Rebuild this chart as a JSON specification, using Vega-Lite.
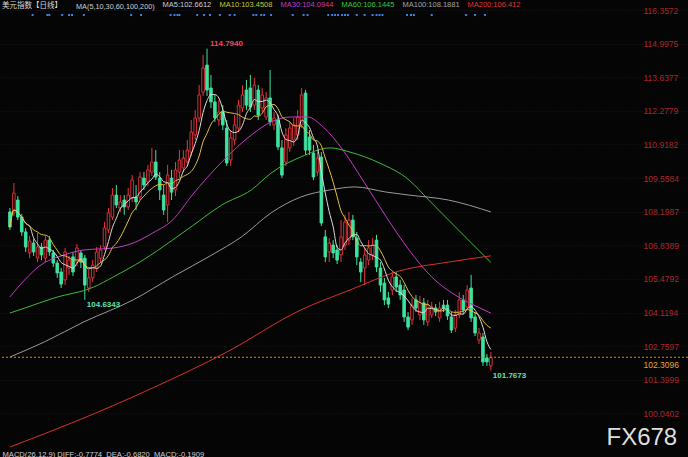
{
  "$schema": "https://vega.github.io/schema/vega-lite/v6.json",
  "width": 688,
  "height": 457,
  "autosize": {"type": "none"},
  "padding": 0,
  "background": "#050505",
  "config": {"view": {"stroke": null}, "font": "Liberation Sans", "axis": {"labelOverlap": false}},
  "title": {"text": "美元指数【日线】", "anchor": "start", "orient": "top", "frame": "group", "offset": -12, "dx": 2, "fontSize": 7.5, "font": "Noto Sans CJK SC", "fontWeight": "normal", "color": "#d9d9d9"},
  "datasets": {
    "candles": [
      {"i":0,"o":108.19,"c":107.58,"h":108.35,"l":107.46},
      {"i":1,"o":108.15,"c":108.95,"h":109.36,"l":108.02},
      {"i":2,"o":108.67,"c":107.98,"h":108.83,"l":107.86},
      {"i":3,"o":107.98,"c":107.38,"h":108.11,"l":107.22},
      {"i":4,"o":107.38,"c":106.77,"h":107.54,"l":106.57},
      {"i":5,"o":106.53,"c":107.01,"h":107.22,"l":106.32},
      {"i":6,"o":106.93,"c":106.57,"h":107.09,"l":106.41},
      {"i":7,"o":106.32,"c":106.77,"h":107.34,"l":106.16},
      {"i":8,"o":106.77,"c":106.45,"h":106.93,"l":106.24},
      {"i":9,"o":106.32,"c":107.05,"h":107.22,"l":106.16},
      {"i":10,"o":107.05,"c":106.57,"h":107.22,"l":106.41},
      {"i":11,"o":106.53,"c":106.12,"h":106.65,"l":105.96},
      {"i":12,"o":106.12,"c":105.72,"h":106.24,"l":105.52},
      {"i":13,"o":105.76,"c":105.27,"h":105.92,"l":105.11},
      {"i":14,"o":105.44,"c":106.57,"h":106.73,"l":105.23},
      {"i":15,"o":105.92,"c":106.24,"h":106.41,"l":105.64},
      {"i":16,"o":106.37,"c":105.76,"h":106.57,"l":105.60},
      {"i":17,"o":106.16,"c":106.73,"h":106.89,"l":106.00},
      {"i":18,"o":106.53,"c":106.16,"h":106.65,"l":105.92},
      {"i":19,"o":106.32,"c":105.23,"h":106.45,"l":104.6343},
      {"i":20,"o":105.11,"c":105.52,"h":105.84,"l":104.95},
      {"i":21,"o":105.52,"c":106.04,"h":106.24,"l":105.35},
      {"i":22,"o":105.92,"c":106.57,"h":106.77,"l":105.76},
      {"i":23,"o":106.32,"c":106.65,"h":106.85,"l":106.16},
      {"i":24,"o":106.77,"c":107.54,"h":107.78,"l":106.65},
      {"i":25,"o":107.46,"c":108.15,"h":108.35,"l":107.34},
      {"i":26,"o":107.98,"c":108.87,"h":109.16,"l":107.86},
      {"i":27,"o":108.87,"c":108.47,"h":109.28,"l":108.35},
      {"i":28,"o":108.35,"c":108.59,"h":108.87,"l":108.19},
      {"i":29,"o":108.67,"c":108.39,"h":108.87,"l":108.07},
      {"i":30,"o":108.39,"c":108.87,"h":109.16,"l":108.27},
      {"i":31,"o":108.75,"c":109.48,"h":109.68,"l":108.59},
      {"i":32,"o":108.79,"c":108.59,"h":109.28,"l":108.27},
      {"i":33,"o":108.79,"c":109.60,"h":109.80,"l":108.67},
      {"i":34,"o":109.56,"c":109.28,"h":109.80,"l":109.08},
      {"i":35,"o":109.40,"c":109.89,"h":110.09,"l":109.24},
      {"i":36,"o":109.80,"c":110.21,"h":110.78,"l":109.64},
      {"i":37,"o":110.21,"c":109.60,"h":110.69,"l":109.48},
      {"i":38,"o":109.56,"c":109.08,"h":109.80,"l":108.67},
      {"i":39,"o":108.87,"c":108.27,"h":109.28,"l":108.07},
      {"i":40,"o":108.47,"c":109.68,"h":110.09,"l":107.78},
      {"i":41,"o":109.56,"c":108.99,"h":109.89,"l":108.67},
      {"i":42,"o":109.08,"c":109.89,"h":110.21,"l":108.83},
      {"i":43,"o":109.80,"c":110.29,"h":110.69,"l":109.56},
      {"i":44,"o":109.97,"c":110.37,"h":110.69,"l":109.80},
      {"i":45,"o":110.21,"c":110.69,"h":111.10,"l":110.05},
      {"i":46,"o":110.61,"c":111.42,"h":111.91,"l":110.45},
      {"i":47,"o":111.30,"c":111.99,"h":112.31,"l":111.10},
      {"i":48,"o":111.99,"c":112.92,"h":113.32,"l":111.83},
      {"i":49,"o":113.04,"c":114.01,"h":114.54,"l":112.88},
      {"i":50,"o":114.13,"c":113.12,"h":114.794,"l":112.88},
      {"i":51,"o":113.20,"c":112.64,"h":113.73,"l":112.39},
      {"i":52,"o":112.64,"c":111.99,"h":112.92,"l":111.83},
      {"i":53,"o":111.91,"c":112.23,"h":112.72,"l":111.67},
      {"i":54,"o":112.23,"c":111.71,"h":112.51,"l":111.50},
      {"i":55,"o":111.58,"c":110.17,"h":111.91,"l":110.05},
      {"i":56,"o":110.29,"c":111.18,"h":111.50,"l":110.05},
      {"i":57,"o":111.10,"c":111.71,"h":112.11,"l":110.90},
      {"i":58,"o":111.58,"c":112.51,"h":112.72,"l":111.42},
      {"i":59,"o":112.39,"c":112.92,"h":113.32,"l":112.23},
      {"i":60,"o":113.12,"c":112.51,"h":113.53,"l":112.31},
      {"i":61,"o":113.20,"c":112.43,"h":113.73,"l":112.23},
      {"i":62,"o":112.51,"c":113.32,"h":113.61,"l":112.31},
      {"i":63,"o":113.12,"c":112.11,"h":113.32,"l":111.91},
      {"i":64,"o":112.39,"c":112.92,"h":113.20,"l":112.23},
      {"i":65,"o":112.03,"c":112.80,"h":113.04,"l":111.91},
      {"i":66,"o":112.80,"c":111.83,"h":113.93,"l":111.67},
      {"i":67,"o":111.71,"c":111.99,"h":112.23,"l":111.50},
      {"i":68,"o":111.91,"c":110.82,"h":112.11,"l":110.69},
      {"i":69,"o":110.78,"c":109.68,"h":111.10,"l":109.56},
      {"i":70,"o":110.21,"c":111.30,"h":111.58,"l":110.05},
      {"i":71,"o":110.78,"c":111.58,"h":111.83,"l":110.61},
      {"i":72,"o":111.10,"c":111.71,"h":111.99,"l":110.86},
      {"i":73,"o":111.30,"c":112.03,"h":112.31,"l":111.10},
      {"i":74,"o":111.71,"c":112.92,"h":113.20,"l":111.58},
      {"i":75,"o":113.00,"c":110.69,"h":113.12,"l":110.49},
      {"i":76,"o":111.22,"c":110.69,"h":111.50,"l":110.49},
      {"i":77,"o":110.57,"c":109.60,"h":110.90,"l":109.48},
      {"i":78,"o":109.80,"c":110.37,"h":110.69,"l":109.64},
      {"i":79,"o":110.41,"c":107.74,"h":110.61,"l":107.62},
      {"i":80,"o":107.18,"c":106.37,"h":107.46,"l":106.16},
      {"i":81,"o":106.57,"c":106.93,"h":107.13,"l":106.16},
      {"i":82,"o":106.85,"c":106.53,"h":107.05,"l":106.32},
      {"i":83,"o":106.65,"c":106.24,"h":106.85,"l":106.08},
      {"i":84,"o":106.45,"c":107.18,"h":107.86,"l":106.16},
      {"i":85,"o":106.85,"c":107.78,"h":108.07,"l":106.65},
      {"i":86,"o":107.05,"c":107.86,"h":108.19,"l":106.85},
      {"i":87,"o":107.86,"c":107.18,"h":108.07,"l":107.05},
      {"i":88,"o":107.13,"c":106.37,"h":107.38,"l":106.04},
      {"i":89,"o":106.16,"c":105.76,"h":106.32,"l":105.35},
      {"i":90,"o":105.92,"c":106.45,"h":106.73,"l":105.23},
      {"i":91,"o":106.24,"c":106.73,"h":107.05,"l":106.04},
      {"i":92,"o":106.45,"c":106.85,"h":107.13,"l":106.24},
      {"i":93,"o":107.05,"c":105.96,"h":107.26,"l":105.76},
      {"i":94,"o":105.92,"c":105.23,"h":106.16,"l":104.95},
      {"i":95,"o":105.31,"c":104.63,"h":105.52,"l":104.42},
      {"i":96,"o":104.71,"c":104.46,"h":104.95,"l":104.30},
      {"i":97,"o":105.03,"c":105.56,"h":105.76,"l":104.83},
      {"i":98,"o":105.56,"c":105.15,"h":105.76,"l":104.95},
      {"i":99,"o":105.23,"c":104.83,"h":105.44,"l":104.63},
      {"i":100,"o":105.03,"c":103.94,"h":105.23,"l":103.74},
      {"i":101,"o":103.94,"c":103.53,"h":104.14,"l":103.41},
      {"i":102,"o":103.82,"c":104.42,"h":104.71,"l":103.62},
      {"i":103,"o":104.63,"c":104.30,"h":104.83,"l":104.14},
      {"i":104,"o":104.02,"c":104.51,"h":104.79,"l":103.82},
      {"i":105,"o":104.51,"c":103.82,"h":104.71,"l":103.62},
      {"i":106,"o":103.74,"c":104.42,"h":104.63,"l":103.57},
      {"i":107,"o":104.02,"c":104.34,"h":104.55,"l":103.90},
      {"i":108,"o":104.30,"c":104.14,"h":104.46,"l":103.98},
      {"i":109,"o":103.90,"c":104.30,"h":104.55,"l":103.74},
      {"i":110,"o":104.42,"c":104.30,"h":104.63,"l":104.14},
      {"i":111,"o":104.42,"c":103.98,"h":104.63,"l":103.82},
      {"i":112,"o":103.94,"c":103.41,"h":104.14,"l":103.29},
      {"i":113,"o":103.49,"c":104.02,"h":104.22,"l":103.33},
      {"i":114,"o":104.02,"c":104.63,"h":104.95,"l":103.90},
      {"i":115,"o":104.63,"c":104.22,"h":104.83,"l":104.06},
      {"i":116,"o":104.34,"c":105.03,"h":105.23,"l":104.22},
      {"i":117,"o":105.11,"c":103.90,"h":105.64,"l":103.74},
      {"i":118,"o":103.94,"c":103.29,"h":104.14,"l":103.17},
      {"i":119,"o":103.01,"c":103.29,"h":103.49,"l":102.85},
      {"i":120,"o":103.13,"c":102.12,"h":103.29,"l":101.96},
      {"i":121,"o":102.28,"c":102.12,"h":102.44,"l":101.96},
      {"i":122,"o":101.96,"c":102.3096,"h":102.52,"l":101.7673}
    ],
    "ma": [
      {"s":"MA30","i":0,"v":104.75},{"s":"MA30","i":3.75,"v":105.44},{"s":"MA30","i":7.5,"v":106.00},{"s":"MA30","i":13.75,"v":106.45},{"s":"MA30","i":18.75,"v":106.65},{"s":"MA30","i":26.25,"v":106.73},{"s":"MA30","i":31.25,"v":106.93},{"s":"MA30","i":36.25,"v":107.34},{"s":"MA30","i":41.25,"v":107.86},{"s":"MA30","i":46.25,"v":108.87},{"s":"MA30","i":53.75,"v":110.21},{"s":"MA30","i":61.25,"v":111.30},{"s":"MA30","i":66.25,"v":111.83},{"s":"MA30","i":71.25,"v":112.03},{"s":"MA30","i":75.5,"v":112.03},{"s":"MA30","i":79.5,"v":111.62},{"s":"MA30","i":84.5,"v":110.69},{"s":"MA30","i":89.5,"v":109.48},{"s":"MA30","i":95.5,"v":107.98},{"s":"MA30","i":101.25,"v":106.65},{"s":"MA30","i":107,"v":105.56},{"s":"MA30","i":113.75,"v":104.75},{"s":"MA30","i":118.75,"v":104.34},{"s":"MA30","i":122,"v":104.0944},
      {"s":"MA60","i":0,"v":104.10},{"s":"MA60","i":3.75,"v":104.30},{"s":"MA60","i":11.25,"v":104.71},{"s":"MA60","i":21.25,"v":105.15},{"s":"MA60","i":26.25,"v":105.56},{"s":"MA60","i":33.75,"v":106.24},{"s":"MA60","i":41.25,"v":107.05},{"s":"MA60","i":46.25,"v":107.62},{"s":"MA60","i":53.75,"v":108.47},{"s":"MA60","i":61.25,"v":109.08},{"s":"MA60","i":66.25,"v":109.76},{"s":"MA60","i":73.75,"v":110.41},{"s":"MA60","i":81.25,"v":110.78},{"s":"MA60","i":86.25,"v":110.61},{"s":"MA60","i":93.75,"v":110.17},{"s":"MA60","i":101.25,"v":109.48},{"s":"MA60","i":106.25,"v":108.67},{"s":"MA60","i":115.5,"v":107.18},{"s":"MA60","i":122,"v":106.1445},
      {"s":"MA100","i":0,"v":102.32},{"s":"MA100","i":8.75,"v":102.93},{"s":"MA100","i":18.75,"v":103.74},{"s":"MA100","i":31.25,"v":104.63},{"s":"MA100","i":41.25,"v":105.56},{"s":"MA100","i":51.25,"v":106.45},{"s":"MA100","i":58.75,"v":107.18},{"s":"MA100","i":66.25,"v":108.15},{"s":"MA100","i":73.75,"v":108.79},{"s":"MA100","i":81.25,"v":109.08},{"s":"MA100","i":87.5,"v":109.20},{"s":"MA100","i":95.5,"v":108.99},{"s":"MA100","i":101.25,"v":108.87},{"s":"MA100","i":111.25,"v":108.67},{"s":"MA100","i":122,"v":108.1881},
      {"s":"MA200","i":0,"v":98.68},{"s":"MA200","i":17.5,"v":99.77},{"s":"MA200","i":36.25,"v":101.07},{"s":"MA200","i":55,"v":102.52},{"s":"MA200","i":73.75,"v":104.22},{"s":"MA200","i":86.25,"v":105.03},{"s":"MA200","i":98.75,"v":105.80},{"s":"MA200","i":111.25,"v":106.16},{"s":"MA200","i":122,"v":106.412}
    ],
    "dots": [
      {"i":5.75},{"i":9.5},{"i":10},{"i":13.25},{"i":15},{"i":15.75},{"i":18.75},{"i":30.75},{"i":33.25},{"i":40.75},{"i":41.75},{"i":42.5},{"i":43},{"i":47.5},{"i":49.25},{"i":50.75},{"i":53.25},{"i":55.75},{"i":57},{"i":61.75},{"i":62.5},{"i":63.75},{"i":64.5},{"i":66.25},{"i":71.75},{"i":74.5},{"i":75.5},{"i":80.75},{"i":81.75},{"i":82.5},{"i":83.25},{"i":84.25},{"i":85},{"i":85.75},{"i":88},{"i":90},{"i":92},{"i":93},{"i":93.75},{"i":94.5},{"i":100.75},{"i":101.75},{"i":102.5},{"i":107},{"i":115.75},{"i":118},{"i":120.5}
    ]
  },
  "layer": [
    {
      "data": {"name": "candles"},
      "mark": {"type": "rule", "strokeWidth": 1},
      "encoding": {
        "x": {"field": "i", "type": "quantitative", "scale": {"domain": [-1.25, 170.75], "nice": false, "zero": false},
          "axis": {"orient": "bottom", "labels": false, "ticks": false, "domain": false, "grid": false,
            "title": "MACD(26,12,9) DIFF:-0.7774\u00a0\u00a0DEA:-0.6820\u00a0\u00a0MACD:-0.1909",
            "titleX": 2, "titleY": -1, "titleAlign": "left", "titleAnchor": "start", "titleBaseline": "alphabetic",
            "titleFontSize": 7.6, "titleFontWeight": "normal", "titleColor": "#cfcfcf", "titleFont": "Liberation Sans"}},
        "y": {"field": "l", "type": "quantitative", "scale": {"domain": [98.275, 116.762], "nice": false, "zero": false},
          "axis": {"orient": "right",
            "values": [116.3572, 114.9975, 113.6377, 112.2779, 110.9182, 109.5584, 108.1987, 106.8389, 105.4792, 104.1194, 102.7597, 102.3096, 101.3999, 100.0402],
            "tickCount": 40,
            "format": ".4f", "labelFontSize": 8.5, "labelFont": "Liberation Sans",
            "labelColor": {"condition": {"test": "datum.value === 102.3096", "value": "#eba23a"}, "value": "#a8282e"},
            "labelOffset": {"condition": {"test": "datum.value === 102.3096", "value": 7}, "value": 0},
            "labelPadding": -45, "labelAlign": "left", "labelBaseline": "middle", "labelOverlap": false, "labelBound": false, "labelFlush": false,
            "ticks": false, "domain": false, "grid": true,
            "gridColor": {"condition": {"test": "datum.value === 102.3096", "value": "transparent"}, "value": "#181818"}, "gridDash": [1, 2],
            "title": "FX678", "titleAngle": 0, "titleX": -82, "titleY": 444, "titleAlign": "left", "titleBaseline": "alphabetic",
            "titleFontSize": 24, "titleFontWeight": "normal", "titleColor": "#dedede", "titleFont": "Liberation Sans"}},
        "y2": {"field": "h"},
        "color": {"condition": {"test": "datum.c > datum.o", "value": "#e8353d"}, "value": "#3fe3a0"}
      }
    },
    {
      "data": {"name": "candles"},
      "mark": {"type": "bar", "width": 2.6, "strokeWidth": 0.9},
      "encoding": {
        "x": {"field": "i", "type": "quantitative", "scale": {"domain": [-1.25, 170.75], "nice": false, "zero": false}},
        "y": {"field": "o", "type": "quantitative", "scale": {"domain": [98.275, 116.762], "nice": false, "zero": false}},
        "y2": {"field": "c"},
        "fill": {"condition": {"test": "datum.c > datum.o", "value": "#050505"}, "value": "#3fe3a0"},
        "stroke": {"condition": {"test": "datum.c > datum.o", "value": "#e8353d"}, "value": "#3fe3a0"}
      }
    },
    {
      "data": {"name": "ma"},
      "mark": {"type": "line", "strokeWidth": 1, "interpolate": "monotone"},
      "encoding": {
        "x": {"field": "i", "type": "quantitative", "scale": {"domain": [-1.25, 170.75], "nice": false, "zero": false}},
        "y": {"field": "v", "type": "quantitative", "scale": {"domain": [98.275, 116.762], "nice": false, "zero": false}},
        "color": {"field": "s", "type": "nominal",
          "scale": {"domain": ["MA5", "MA10", "MA30", "MA60", "MA100", "MA200"], "range": ["#dcdcdc", "#e3c23a", "#c33cc3", "#3dbb3d", "#9a9a9a", "#d93030"]},
          "legend": {"orient": "none", "legendX": 76, "legendY": -3, "direction": "horizontal",
            "title": "MA(5,10,30,60,100,200)", "titleOrient": "left", "titleColor": "#cfcfcf", "titleFontSize": 7.3, "titleFontWeight": "normal", "titleFont": "Liberation Sans", "titlePadding": 0, "titleBaseline": "top",
            "labelFont": "Liberation Sans", "labelFontSize": 7.5, "labelBaseline": "top",
            "labelExpr": "datum.label == 'MA5' ? 'MA5:102.6612' : datum.label == 'MA10' ? 'MA10:103.4508' : datum.label == 'MA30' ? 'MA30:104.0944' : datum.label == 'MA60' ? 'MA60:106.1445' : datum.label == 'MA100' ? 'MA100:108.1881' : 'MA200:106.412'",
            "labelColor": {"expr": "datum.value == 'MA5' ? '#cfcfcf' : datum.value == 'MA10' ? '#c9c63c' : datum.value == 'MA30' ? '#c43cc4' : datum.value == 'MA60' ? '#3fc43f' : datum.value == 'MA100' ? '#a6a6a6' : '#e03434'"},
            "symbolSize": 0, "symbolStrokeWidth": 0, "symbolOpacity": 0, "labelOffset": 0, "columnPadding": -4, "padding": 0, "rowPadding": 0}}
      }
    },
    {
      "data": {"name": "candles"},
      "transform": [
        {"window": [{"op": "mean", "field": "c", "as": "MA5"}], "frame": [-4, 0], "sort": [{"field": "i"}]},
        {"window": [{"op": "mean", "field": "c", "as": "MA10"}], "frame": [-9, 0], "sort": [{"field": "i"}]},
        {"fold": ["MA5", "MA10"], "as": ["s", "v"]}
      ],
      "mark": {"type": "line", "strokeWidth": 1, "interpolate": "monotone"},
      "encoding": {
        "x": {"field": "i", "type": "quantitative", "scale": {"domain": [-1.25, 170.75], "nice": false, "zero": false}},
        "y": {"field": "v", "type": "quantitative", "scale": {"domain": [98.275, 116.762], "nice": false, "zero": false}},
        "color": {"field": "s", "type": "nominal", "scale": {"domain": ["MA5", "MA10", "MA30", "MA60", "MA100", "MA200"], "range": ["#dcdcdc", "#e3c23a", "#c33cc3", "#3dbb3d", "#9a9a9a", "#d93030"]}, "legend": null}
      }
    },
    {
      "data": {"values": [{"price": 102.3096}]},
      "mark": {"type": "rule", "color": "#d98a1f", "strokeDash": [2, 2], "strokeWidth": 1},
      "encoding": {
        "y": {"field": "price", "type": "quantitative", "scale": {"domain": [98.275, 116.762], "nice": false, "zero": false}}
      }
    },
    {
      "data": {"name": "dots"},
      "mark": {"type": "square", "size": 4, "color": "#3b82e0", "opacity": 1},
      "encoding": {
        "x": {"field": "i", "type": "quantitative", "scale": {"domain": [-1.25, 170.75], "nice": false, "zero": false}},
        "y": {"datum": 116.155, "type": "quantitative", "scale": {"domain": [98.275, 116.762], "nice": false, "zero": false}}
      }
    },
    {
      "data": {"values": [{"i": 50, "v": 114.794, "t": "114.7940"}]},
      "mark": {"type": "text", "align": "left", "baseline": "middle", "dx": 3, "dy": -5, "fontSize": 8, "fontWeight": "bold", "color": "#f04a5e"},
      "encoding": {
        "x": {"field": "i", "type": "quantitative", "scale": {"domain": [-1.25, 170.75], "nice": false, "zero": false}},
        "y": {"field": "v", "type": "quantitative", "scale": {"domain": [98.275, 116.762], "nice": false, "zero": false}},
        "text": {"field": "t"}
      }
    },
    {
      "data": {"values": [{"i": 19, "v": 104.6343, "t": "104.6343"}, {"i": 122, "v": 101.7673, "t": "101.7673"}]},
      "mark": {"type": "text", "align": "left", "baseline": "middle", "dx": 2, "dy": 5, "fontSize": 8, "fontWeight": "bold", "color": "#5fe0b0"},
      "encoding": {
        "x": {"field": "i", "type": "quantitative", "scale": {"domain": [-1.25, 170.75], "nice": false, "zero": false}},
        "y": {"field": "v", "type": "quantitative", "scale": {"domain": [98.275, 116.762], "nice": false, "zero": false}},
        "text": {"field": "t"}
      }
    }
  ]
}
